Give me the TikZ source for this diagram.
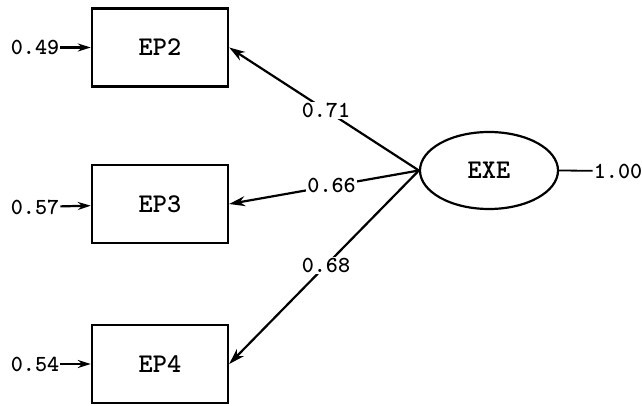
\documentclass[tikz,border=0pt]{standalone}
\usetikzlibrary{shapes.geometric,arrows.meta}
\begin{document}
\begin{tikzpicture}[x=1pt,y=-1pt,
  obs/.style={draw,line width=2.4pt,minimum width=136pt,minimum height=78pt,inner sep=0pt,font=\ttfamily\bfseries\fontsize{27}{27}\selectfont},
  lat/.style={draw,ellipse,line width=2.2pt,minimum width=138pt,minimum height=77pt,inner sep=0pt,font=\ttfamily\bfseries\fontsize{27}{27}\selectfont},
  num/.style={inner sep=1pt,font=\ttfamily\bfseries\fontsize{23}{23}\selectfont},
  wlab/.style={num,fill=white,inner sep=1pt},
  conn/.style={line width=2.2pt,-{Stealth[length=16pt,width=10pt]}},
  errc/.style={line width=2.2pt,-{Stealth[length=13pt,width=8pt]}}]
\useasboundingbox (0,0) rectangle (642,406);
\node[obs] (ep2) at (160,47.5) {EP2};
\node[obs] (ep3) at (160,204) {EP3};
\node[obs] (ep4) at (160,364) {EP4};
\node[lat] (exe) at (489,170.5) {EXE};
\node[num] (e2) at (35,47.5) {0.49};
\node[num] (e3) at (35,207) {0.57};
\node[num] (e4) at (35,364) {0.54};
\node[num] (v) at (618,171) {1.00};
\draw[errc] (e2) -- (ep2);
\draw[errc] (e3) -- (ep3);
\draw[errc] (e4) -- (ep4);
\draw[line width=1.8pt] (exe.east) -- (v);
\draw[conn] (exe.west) -- node[wlab,pos=0.49] {0.71} (ep2.east);
\draw[conn] (exe.west) -- node[wlab,pos=0.46] {0.66} (ep3.east);
\draw[conn] (exe.west) -- node[wlab,pos=0.49] {0.68} (ep4.east);
\end{tikzpicture}
\end{document}
